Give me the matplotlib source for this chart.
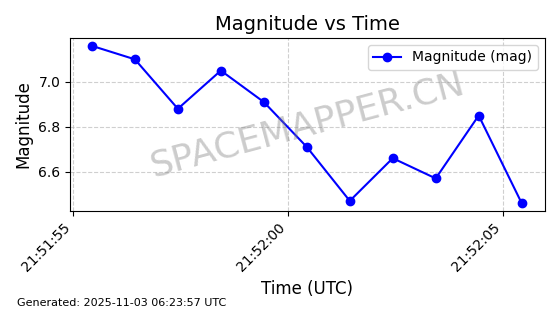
import matplotlib
matplotlib.use("Agg")
import matplotlib.pyplot as plt
import matplotlib.dates as mdates
import pandas as pd

times = ["2025-11-02 21:51:55.44", "2025-11-02 21:51:56.44", "2025-11-02 21:51:57.44",
         "2025-11-02 21:51:58.44", "2025-11-02 21:51:59.44", "2025-11-02 21:52:00.44",
         "2025-11-02 21:52:01.44", "2025-11-02 21:52:02.44", "2025-11-02 21:52:03.44",
         "2025-11-02 21:52:04.44", "2025-11-02 21:52:05.44"]
magnitudes = [7.16, 7.10, 6.88, 7.05, 6.91, 6.71, 6.47, 6.66, 6.57, 6.85, 6.46]
tick_times = ["2025-11-02 21:51:55", "2025-11-02 21:52:00", "2025-11-02 21:52:05"]

t = pd.to_datetime(times)
ticks = pd.to_datetime(tick_times)

fig = plt.figure(figsize=(5.6, 3.14), dpi=100)
ax = fig.add_axes([0.125, 0.328, 0.848, 0.551])
ax.plot(t, magnitudes, color="blue", marker="o", markersize=6, linewidth=1.5,
        label="Magnitude (mag)")
ax.set_xticks(ticks)
ax.xaxis.set_major_formatter(mdates.DateFormatter("%H:%M:%S"))
plt.setp(ax.get_xticklabels(), rotation=45, ha="right")
ax.set_xlim(pd.Timestamp("2025-11-02 21:51:54.93"), pd.Timestamp("2025-11-02 21:52:05.98"))
ax.set_ylim(6.425, 7.195)
ax.set_yticks([6.6, 6.8, 7.0])
ax.grid(True, linestyle="--", alpha=0.6)
ax.set_title("Magnitude vs Time", fontsize=14)
ax.set_xlabel("Time (UTC)", fontsize=12)
ax.set_ylabel("Magnitude", fontsize=12)
ax.legend(loc="upper right")
ax.text(0.5, 0.5, "SPACEMAPPER.CN", transform=ax.transAxes, fontsize=26,
        color="gray", alpha=0.4, rotation=15, ha="center", va="center")
fig.text(0.03, 0.025, "Generated: 2025-11-03 06:23:57 UTC", fontsize=8)
fig.savefig("out.png", dpi=100)
